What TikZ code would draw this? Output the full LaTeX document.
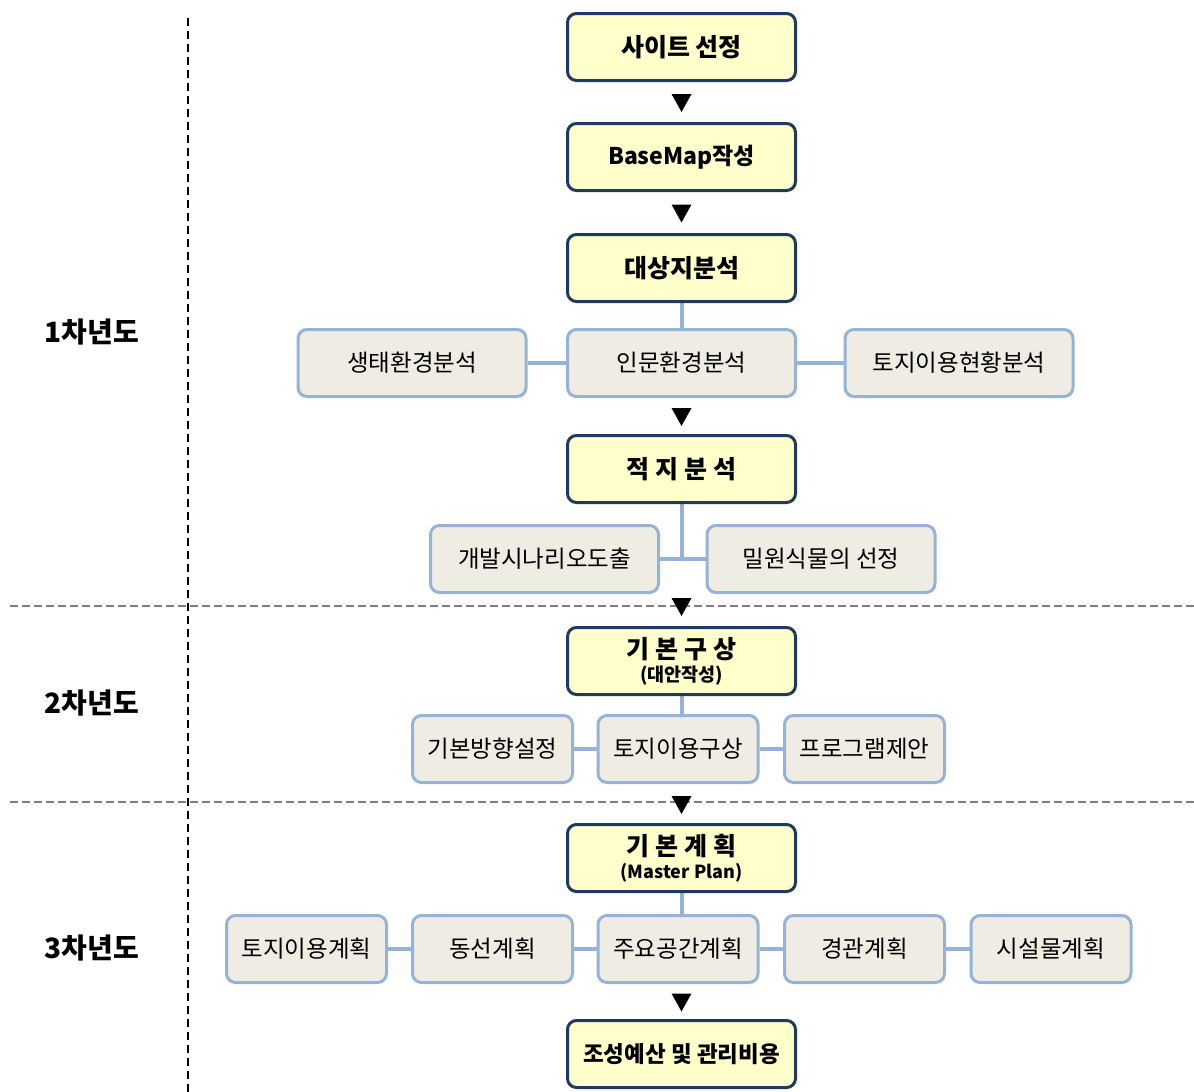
\documentclass[tikz,border=0pt]{standalone}
\usepackage{fontspec}
\setmainfont{Noto Sans CJK KR}
\usetikzlibrary{calc}
\pgfdeclarelayer{bg}
\pgfsetlayers{bg,main}
\definecolor{navy}{HTML}{1F3A60}
\definecolor{ylw}{HTML}{FFFFCC}
\definecolor{lblue}{HTML}{95B3D7}
\definecolor{beige}{HTML}{EFEDE3}
\definecolor{dgray}{HTML}{7F7F7F}
\tikzset{
 mainbox/.style={draw=navy, line width=3pt, fill=ylw, rounded corners=9pt, minimum width=228pt, minimum height=67pt, inner sep=0pt, font=\fontsize{25}{28}\selectfont\bfseries, align=center},
 subbox/.style={draw=lblue, line width=3pt, fill=beige, rounded corners=9pt, minimum height=67pt, inner sep=0pt, font=\fontsize{23.5}{26}\selectfont},
 widebox/.style={subbox, minimum width=228pt},
 narrowbox/.style={subbox, minimum width=160pt},
 link/.style={draw=lblue, line width=4pt},
 yearlabel/.style={font=\fontsize{28}{32}\selectfont\bfseries, inner sep=0pt},
}
\newcommand{\downtri}[1]{\fill[black] ($(#1)+(-10,-8)$) -- ($(#1)+(10,-8)$) -- ($(#1)+(0,10)$) -- cycle;}
\begin{document}
\begin{tikzpicture}[x=1pt,y=-1pt]
\useasboundingbox (0,0) rectangle (1194,1092);
% dashed guide lines
\draw[black, line width=2.5pt, dash pattern=on 8pt off 5pt] (188,18) -- (188,1092);
\draw[dgray, line width=2pt, dash pattern=on 8pt off 4pt] (10,606) -- (1194,606);
\draw[dgray, line width=2pt, dash pattern=on 8pt off 4pt] (10,802) -- (1194,802);
% year labels
\node[yearlabel] (y1) at (92,332) {1차년도};
\node[yearlabel] (y2) at (92,703) {2차년도};
\node[yearlabel] (y3) at (92,948) {3차년도};
% main boxes
\node[mainbox] (t1) at (681.5,47) {사이트 선정};
\node[mainbox, font=\fontsize{23}{26}\selectfont\bfseries] (t2) at (681.5,157) {BaseMap작성};
\node[mainbox] (t3) at (681.5,268) {대상지분석};
\node[mainbox] (t4) at (681.5,469) {적 지 분 석};
\node[mainbox] (t5) at (681.5,661) {기 본 구 상\\[-5pt]{\fontsize{18.5}{20}\selectfont\bfseries (대안작성)}};
\node[mainbox] (t6) at (681.5,858) {기 본 계 획\\[-5pt]{\fontsize{18}{20}\selectfont\bfseries (Master Plan)}};
\node[mainbox, font=\fontsize{22.5}{26}\selectfont\bfseries] (t7) at (681.5,1054) {조성예산 및 관리비용};
% row 1
\node[widebox] (r1a) at (412,363) {생태환경분석};
\node[widebox] (r1b) at (681.5,363) {인문환경분석};
\node[widebox] (r1c) at (959,363) {토지이용현황분석};
% row 2
\node[widebox] (r2a) at (544.5,559) {개발시나리오도출};
\node[widebox] (r2b) at (821,559) {밀원식물의 선정};
% row 3
\node[narrowbox] (r3a) at (492.5,749) {기본방향설정};
\node[narrowbox] (r3b) at (678,749) {토지이용구상};
\node[narrowbox] (r3c) at (864.5,749) {프로그램제안};
% row 4
\node[narrowbox] (r4a) at (306.5,949) {토지이용계획};
\node[narrowbox] (r4b) at (492.5,949) {동선계획};
\node[narrowbox] (r4c) at (678,949) {주요공간계획};
\node[narrowbox] (r4d) at (864.5,949) {경관계획};
\node[narrowbox] (r4e) at (1051,949) {시설물계획};
% connectors
\begin{pgfonlayer}{bg}
\draw[link] (t3.south) -- (t3.south |- r1b.north);
\draw[link] (r1a.east) -- (r1b.west);
\draw[link] (r1b.east) -- (r1c.west);
\draw[link] (t4.south) -- (t4.south |- r2a.east);
\draw[link] (r2a.east) -- (r2b.west);
\draw[link] (t5.south) -- (t5.south |- r3b.north);
\draw[link] (r3a.east) -- (r3b.west);
\draw[link] (r3b.east) -- (r3c.west);
\draw[link] (t6.south) -- (t6.south |- r4c.north);
\draw[link] (r4a.east) -- (r4b.west);
\draw[link] (r4b.east) -- (r4c.west);
\draw[link] (r4c.east) -- (r4d.west);
\draw[link] (r4d.east) -- (r4e.west);
\end{pgfonlayer}
% arrow heads
\coordinate (a1) at ($(t1.south)!0.5!(t2.north)$);
\coordinate (a2) at ($(t2.south)!0.5!(t3.north)$);
\coordinate (a3) at ($(r1b.south)!0.5!(t4.north)$);
\coordinate (a4) at (681.5,606);
\coordinate (a5) at (681.5,804);
\coordinate (a6) at ($(r4c.south -| t7.north)!0.5!(t7.north)$);
\downtri{a1}\downtri{a2}\downtri{a3}\downtri{a4}\downtri{a5}\downtri{a6}
\end{tikzpicture}
\end{document}
